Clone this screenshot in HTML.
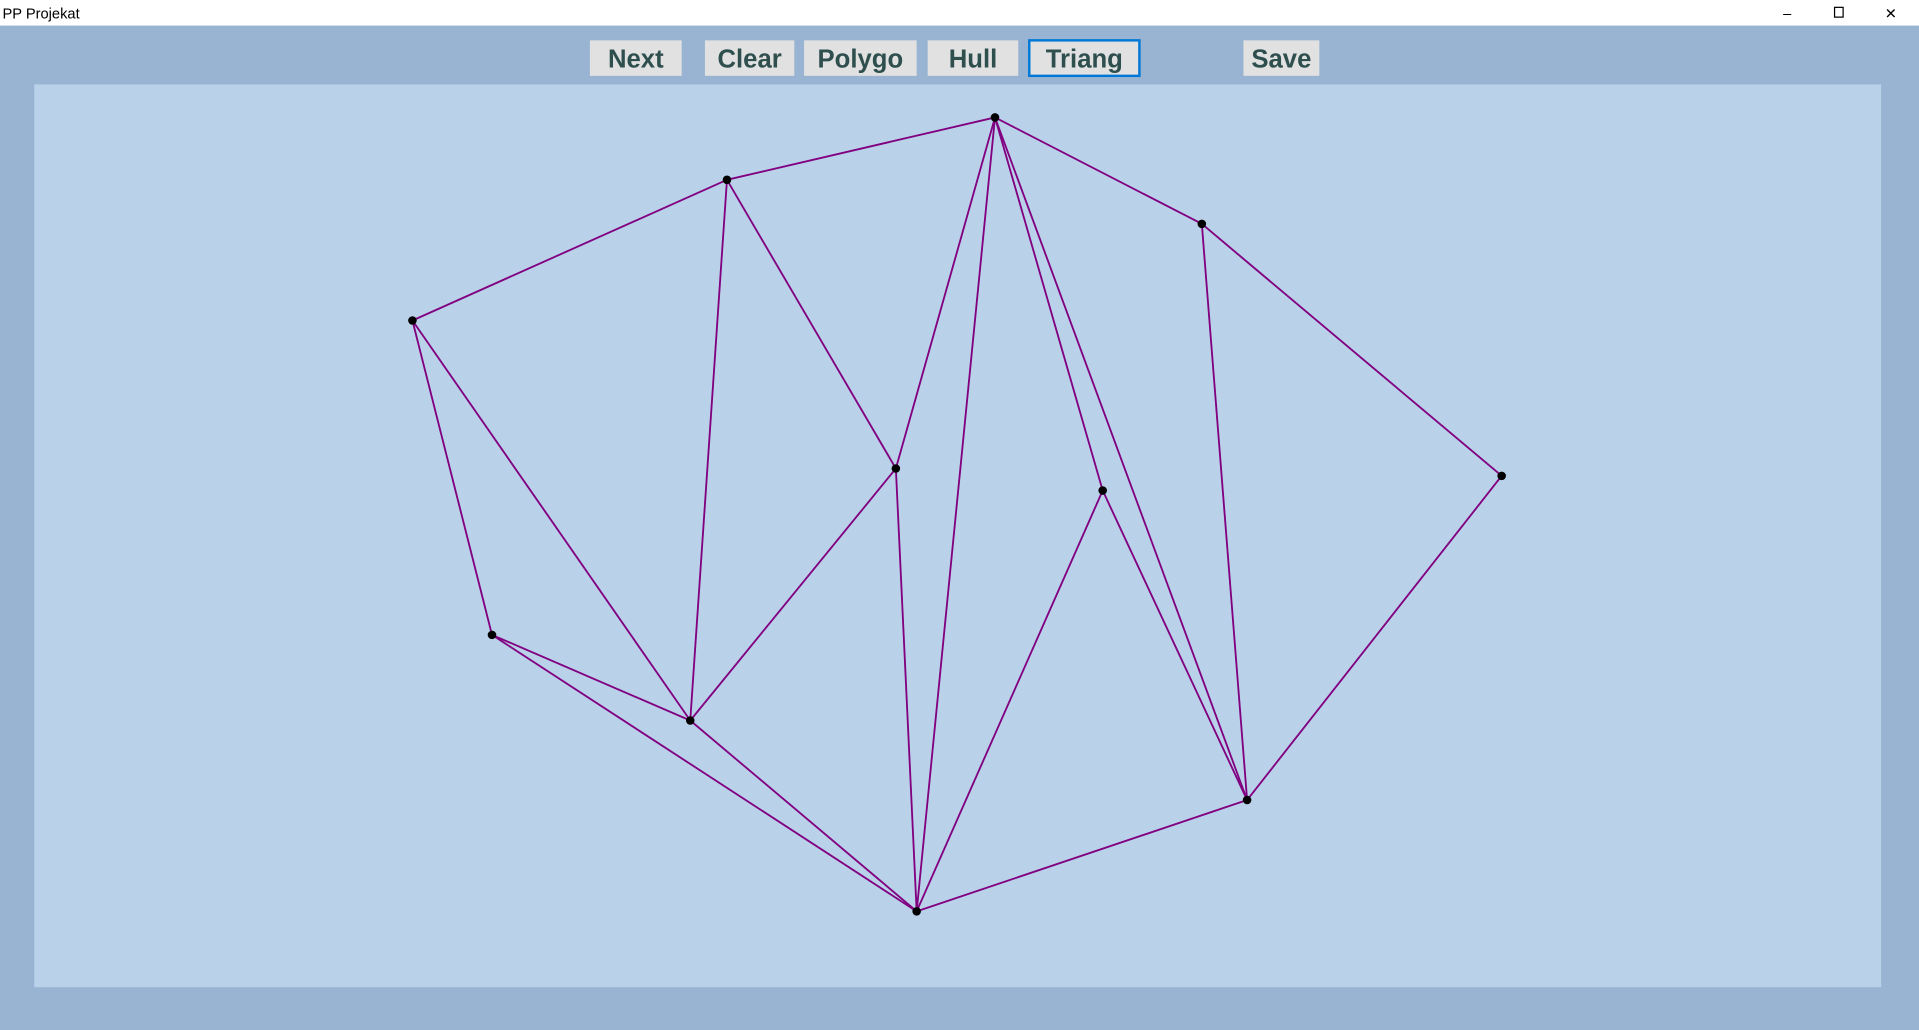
<!DOCTYPE html>
<html><head><meta charset="utf-8"><style>
html,body{margin:0;padding:0;width:1919px;height:1030px;overflow:hidden;background:#98b4d2}
svg{display:block}
text{font-family:"Liberation Sans",sans-serif}
</style></head><body>
<svg id="s" width="1919" height="1030" viewBox="0 0 1568 842" preserveAspectRatio="none">
<rect x="0" y="0" width="1568" height="21" fill="#ffffff"/>
<text x="2" y="15" font-size="12" fill="#000">PP Projekat</text>
<text x="1457" y="15" font-size="12" fill="#000">–</text>
<rect x="1499" y="6" width="7" height="8" fill="none" stroke="#000" stroke-width="1"/>
<text x="1540" y="15" font-size="12" fill="#000">✕</text>
<rect x="0" y="21" width="1568" height="821" fill="#98b4d2"/>
<rect x="28" y="69" width="1509" height="738" fill="#bad1ea"/>
<g id="buttons"></g>
<g id="edges"></g>
<g id="points"></g>
</svg>
<script>
const btnLabels=["Next","Clear","Polygo","Hull","Triang","Save"];
const btnX=[482,576,657,758,841,1016];
const btnW=[75,73,92,74,90,62];
const ptX=[337,594,813,982,1227,732,901,402,564,1019,749];
const ptY=[262,147,96,183,389,383,401,519,589,654,745];
const edgeFrom=[0,1,2,3,4,9,10,7,0,7,8,1,1,5,5,5,2,2,2,6,6,3];
const edgeTo  =[1,2,3,4,9,10,7,0,8,8,10,8,5,8,2,10,10,6,9,10,9,9];
const NS="http://www.w3.org/2000/svg";
const bg=document.getElementById('buttons');
btnLabels.forEach((l,i)=>{
  const r=document.createElementNS(NS,'rect');
  r.setAttribute('x',btnX[i]);r.setAttribute('y',33);r.setAttribute('width',btnW[i]);r.setAttribute('height',29);
  r.setAttribute('fill','#e1e1e1');
  if(l==="Triang"){r.setAttribute('stroke','#0078d7');r.setAttribute('stroke-width','2');}
  
  
  bg.appendChild(r);
  const t=document.createElementNS(NS,'text');
  t.setAttribute('x',btnX[i]+btnW[i]/2);t.setAttribute('y',55);t.setAttribute('text-anchor','middle');
  t.setAttribute('font-size','21');t.setAttribute('font-weight','bold');t.setAttribute('fill','#2f4f4f');
  t.textContent=l;
  
  
  bg.appendChild(t);
});
const eg=document.getElementById('edges');
edgeFrom.forEach((a,i)=>{
  const b=edgeTo[i];
  const ln=document.createElementNS(NS,'line');
  ln.setAttribute('x1',ptX[a]);ln.setAttribute('y1',ptY[a]);ln.setAttribute('x2',ptX[b]);ln.setAttribute('y2',ptY[b]);
  ln.setAttribute('stroke','#800080');ln.setAttribute('stroke-width','1.5');
  
  
  eg.appendChild(ln);
});
const pg=document.getElementById('points');
ptX.forEach((x,i)=>{
  const c=document.createElementNS(NS,'circle');
  c.setAttribute('cx',x);c.setAttribute('cy',ptY[i]);c.setAttribute('r','3.5');c.setAttribute('fill','#000');
  
  
  pg.appendChild(c);
});
</script>
</body></html>
